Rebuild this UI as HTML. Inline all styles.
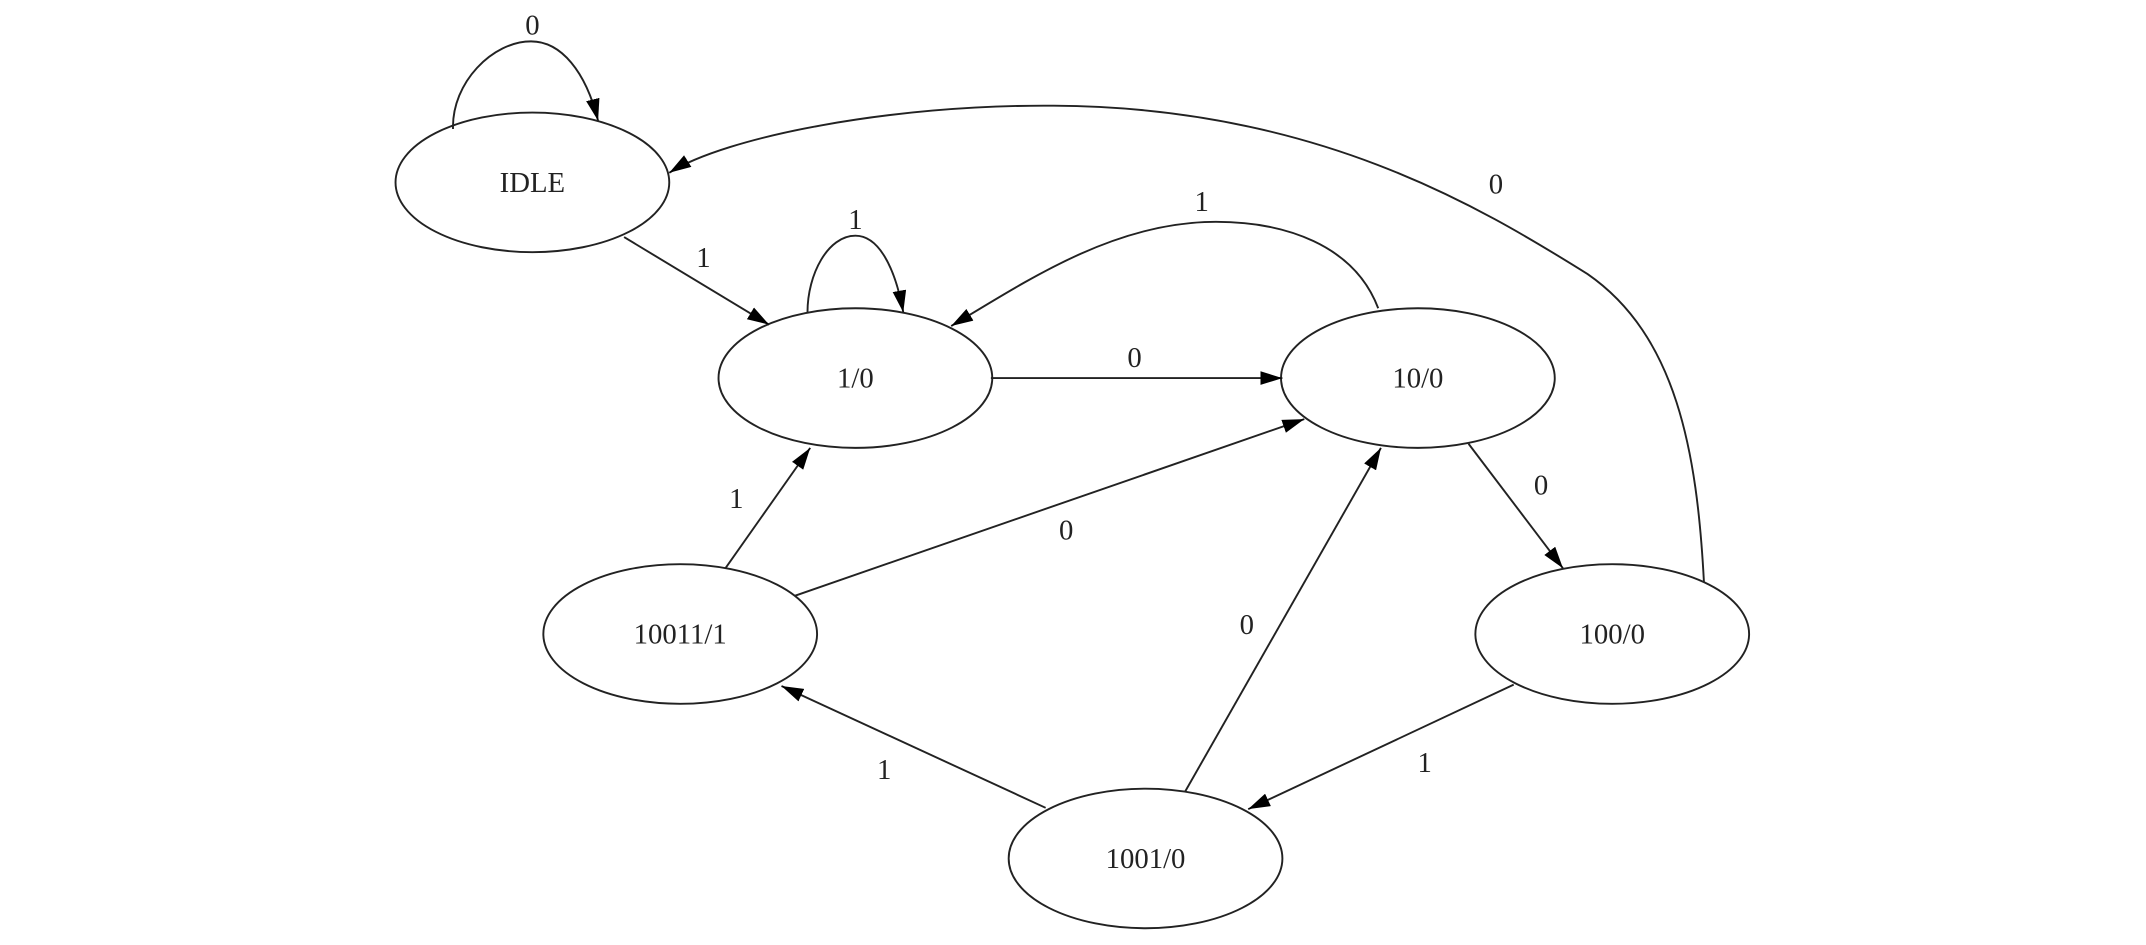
<!DOCTYPE html>
<html><head><meta charset="utf-8"><style>
html,body{margin:0;padding:0;background:#fff;}
svg{display:block;}
text{font-family:"Liberation Serif",serif;font-size:21px;fill:#222;text-anchor:middle;}
</style></head><body>
<svg width="2146" height="945" viewBox="0 0 1568 690" xmlns="http://www.w3.org/2000/svg">
<defs>
<marker id="a" viewBox="0 0 16 10" refX="16" refY="5" markerWidth="16" markerHeight="10" markerUnits="userSpaceOnUse" orient="auto">
<path d="M0,0 L16,5 L0,10 z" fill="#000"/>
</marker>
</defs>
<g fill="none" stroke="#222" stroke-width="1.4">
<ellipse cx="389" cy="133" rx="100" ry="51"/>
<ellipse cx="625" cy="276" rx="100" ry="51"/>
<ellipse cx="1036" cy="276" rx="100" ry="51"/>
<ellipse cx="497" cy="463" rx="100" ry="51"/>
<ellipse cx="1178" cy="463" rx="100" ry="51"/>
<ellipse cx="837" cy="627" rx="100" ry="51"/>
<path marker-end="url(#a)" d="M331,94 C330,60 360,30 388,30 C410,30 428,52 437,88"/>
<path marker-end="url(#a)" d="M590,228 C590,200 605,172 625,172 C642,172 654,195 660,228"/>
<path marker-end="url(#a)" d="M456,173 L562,237"/>
<path marker-end="url(#a)" d="M724,276 L937,276"/>
<path marker-end="url(#a)" d="M1007,225 C990,180 940,160 880,162 C810,165 750,205 695,238"/>
<path marker-end="url(#a)" d="M1245,425 C1240,330 1225,245 1160,200 C1080,150 960,78 770,77 C650,76 530,100 489,126"/>
<path marker-end="url(#a)" d="M1073,324 L1142,415"/>
<path marker-end="url(#a)" d="M530,415 L592,327"/>
<path marker-end="url(#a)" d="M581,435 L953,306"/>
<path marker-end="url(#a)" d="M866,578 L1009,327"/>
<path marker-end="url(#a)" d="M1106,500 L912,591"/>
<path marker-end="url(#a)" d="M764,590 L571,501"/>
</g>
<text x="389" y="140">IDLE</text>
<text x="625" y="283">1/0</text>
<text x="1036" y="283">10/0</text>
<text x="497" y="470">10011/1</text>
<text x="1178" y="470">100/0</text>
<text x="837" y="634">1001/0</text>
<text x="389" y="25">0</text>
<text x="625" y="167">1</text>
<text x="514" y="195">1</text>
<text x="829" y="268">0</text>
<text x="878" y="154">1</text>
<text x="1093" y="141">0</text>
<text x="1126" y="361">0</text>
<text x="538" y="371">1</text>
<text x="779" y="394">0</text>
<text x="911" y="463">0</text>
<text x="1041" y="564">1</text>
<text x="646" y="569">1</text>
</svg>
</body></html>
